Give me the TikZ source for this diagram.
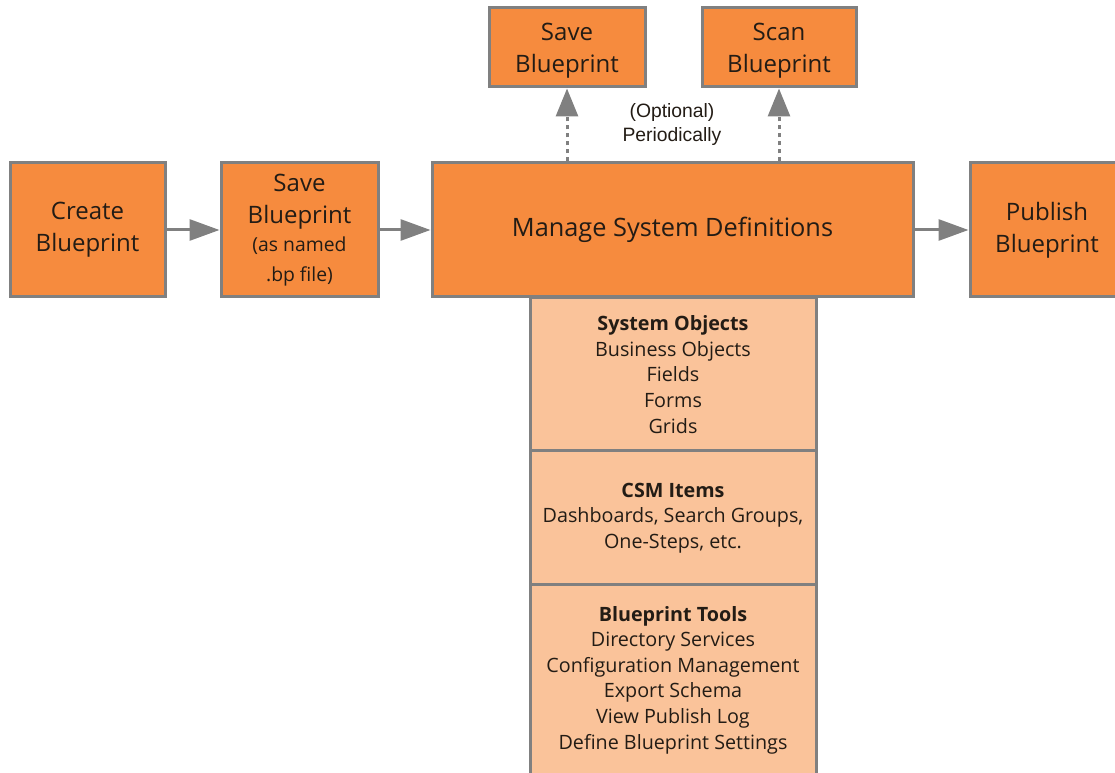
\documentclass[tikz,border=0pt]{standalone}
\usepackage{fontspec}
\setmainfont{Open Sans}
\newfontfamily\arialfont{Liberation Sans}
\usetikzlibrary{arrows.meta}
\definecolor{boxorange}{HTML}{F68B3E}
\definecolor{boxlight}{HTML}{FAC39A}
\definecolor{boxgray}{HTML}{808080}
\definecolor{txt}{HTML}{231C15}
\tikzset{
  obox/.style={draw=boxgray, line width=2.25pt, fill=boxorange, text=txt, align=center,
    inner sep=0pt, font=\fontsize{18}{24}\selectfont},
  lbox/.style={draw=boxgray, line width=2.25pt, fill=boxlight, text=txt, align=center,
    inner sep=0pt, minimum width=214.5pt, font=\fontsize{14.8}{19.2}\selectfont},
  flow/.style={draw=boxgray, line width=2.25pt, -{Triangle[length=22.5pt, width=15.75pt]}},
  optflow/.style={draw=boxgray, line width=2.25pt, dash pattern=on 3.5pt off 2.5pt,
    -{Triangle[length=21pt, width=16.5pt]}},
}
\begin{document}
\begin{tikzpicture}[x=0.75pt, y=-0.75pt]
\useasboundingbox (0,0) rectangle (1115,773);
\clip (0,0) rectangle (1115,773);
% lower stack
\node[lbox, minimum height=114.75pt] (sysobj) at (673,374.5)
  {{\bfseries System Objects}\\Business Objects\\Fields\\Forms\\Grids};
\node[lbox, minimum height=100.5pt] (csm) at (673,518)
  {{\bfseries CSM Items}\\Dashboards, Search Groups,\\One-Steps, etc.};
\node[lbox, minimum height=142.5pt] (tools) at (673,680)
  {{\bfseries Blueprint Tools}\\Directory Services\\Configuration Management\\Export Schema\\View Publish Log\\Define Blueprint Settings};
% main row
\node[obox, minimum width=116.25pt, minimum height=100.5pt] (create) at (87.5,230) {Create\\Blueprint};
\node[obox, minimum width=117.75pt, minimum height=100.5pt] (save) at (299.5,230)
  {Save\\Blueprint\\[-2.5pt]{\fontsize{14.5}{20}\selectfont (as named}\\[-1.5pt]{\fontsize{14.5}{20}\selectfont .bp file)}};
\node[obox, minimum width=360.75pt, minimum height=100.5pt, font=\fontsize{19}{24}\selectfont] (manage) at (672.5,230) {Manage System Definitions};
\node[obox, minimum width=115.5pt, minimum height=100.5pt] (publish) at (1047,230) {Publish\\Blueprint};
% top row
\node[obox, minimum width=117pt, minimum height=59.25pt] (savetop) at (567,47.5) {\rule{0pt}{18pt}Save\\Blueprint};
\node[obox, minimum width=115.5pt, minimum height=59.25pt] (scan) at (779,47.5) {\rule{0pt}{18pt}Scan\\Blueprint};
\node[text=txt, align=center, font=\arialfont\fontsize{14.5}{18}\selectfont] (opt) at (672,125) {(Optional)\\Periodically};
% connectors
\draw[flow] (create) -- (save);
\draw[flow] (save) -- (manage);
\draw[flow] (manage) -- (publish);
\draw[optflow] (savetop.south |- manage.north) -- (savetop.south);
\draw[optflow] (scan.south |- manage.north) -- (scan.south);
\end{tikzpicture}
\end{document}
